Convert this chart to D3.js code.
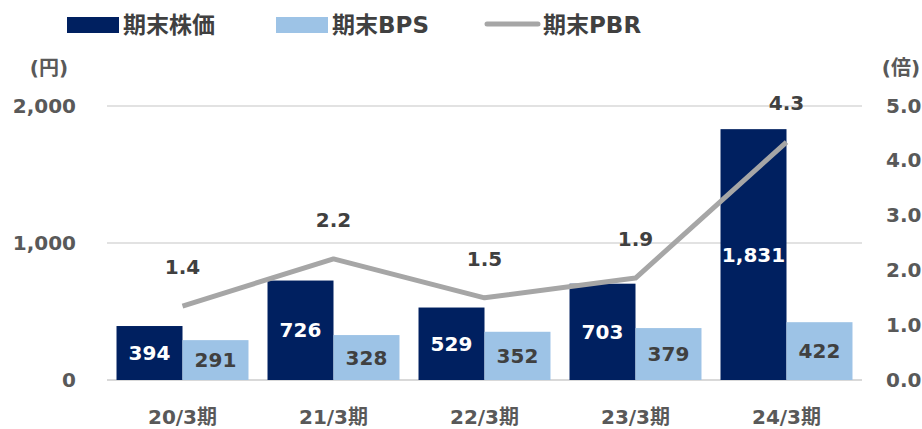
<!DOCTYPE html>
<html><head><meta charset="utf-8">
<script src="https://cdn.jsdelivr.net/npm/d3@7/dist/d3.min.js"></script>
<style>
html,body{margin:0;padding:0;background:#fff;}
text{font-family:"DejaVu Sans","Noto Sans CJK JP",sans-serif;font-weight:bold;}
</style></head>
<body><svg id="c" width="922" height="429"></svg>
<script>
const categories = ["20/3期","21/3期","22/3期","23/3期","24/3期"];
const stockPrice = [394, 726, 529, 703, 1831];
const bps = [291, 328, 352, 379, 422];
const pbr = [1.35, 2.21, 1.50, 1.86, 4.34];
const leftTicks = [0, 1000, 2000];
const rightTicks = [0, 1, 2, 3, 4, 5];
const seriesNames = ["期末株価", "期末BPS", "期末PBR"];

const C_DARK = "#002060", C_LIGHT = "#9DC3E6", C_LINE = "#A6A6A6", C_TXT = "#404040", C_AX = "#595959";
const svg = d3.select("#c");
const L = 107, R = 862, T = 106, B = 380;

const x0 = d3.scaleBand().domain(categories).range([L, R]).paddingInner(0.126).paddingOuter(0.063);
const x1 = d3.scaleBand().domain(["p","b"]).range([0, x0.bandwidth()]);
const yL = d3.scaleLinear().domain([0, 2000]).range([B, T]);
const yR = d3.scaleLinear().domain([0, 5]).range([B, T]);

// gridlines
svg.append("g").selectAll("line").data(leftTicks).join("line")
  .attr("x1", L).attr("x2", R).attr("y1", d => yL(d)).attr("y2", d => yL(d))
  .attr("stroke", "#D9D9D9").attr("stroke-width", d => d === 0 ? 2 : 1.5);

// left axis
const axL = d3.axisLeft(yL).tickValues(leftTicks).tickFormat(d3.format(",")).tickSize(0).tickPadding(0);
const gL = svg.append("g").attr("transform", "translate(76,0)").call(axL);
gL.select(".domain").remove();
gL.selectAll("text").attr("fill", C_AX).attr("font-size", 20).attr("dy", "0.3em").style("font-family", null);

// right axis
const axR = d3.axisRight(yR).tickValues(rightTicks).tickFormat(d3.format(".1f")).tickSize(0).tickPadding(0);
const gR = svg.append("g").attr("transform", "translate(886,0)").call(axR);
gR.select(".domain").remove();
gR.selectAll("text").attr("fill", C_AX).attr("font-size", 20).attr("dy", "0.3em").style("font-family", null);

// unit labels
svg.append("text").attr("x", 49).attr("y", 75).attr("text-anchor", "middle").attr("fill", C_AX).attr("font-size", 20).text("(円)");
svg.append("text").attr("x", 901).attr("y", 75).attr("text-anchor", "middle").attr("fill", C_AX).attr("font-size", 20).text("(倍)");

// x axis labels
const axX = d3.axisBottom(x0).tickSize(0).tickPadding(0);
const gX = svg.append("g").attr("transform", "translate(0,417)").call(axX);
gX.select(".domain").remove();
gX.selectAll("text").attr("fill", C_AX).attr("font-size", 20).attr("dy", "0.35em").style("font-family", null);

// bars
const groups = svg.append("g").selectAll("g").data(categories).join("g")
  .attr("transform", d => `translate(${x0(d)},0)`);
groups.append("rect").attr("x", x1("p")).attr("width", x1.bandwidth())
  .attr("y", (d, i) => yL(stockPrice[i])).attr("height", (d, i) => B - yL(stockPrice[i])).attr("fill", C_DARK);
groups.append("rect").attr("x", x1("b")).attr("width", x1.bandwidth())
  .attr("y", (d, i) => yL(bps[i])).attr("height", (d, i) => B - yL(bps[i])).attr("fill", C_LIGHT);
groups.append("text").attr("x", x1("p") + x1.bandwidth() / 2).attr("text-anchor", "middle")
  .attr("y", (d, i) => (yL(stockPrice[i]) + B) / 2).attr("dy", "0.36em")
  .attr("fill", "#fff").attr("font-size", 20).text((d, i) => d3.format(",")(stockPrice[i]));
groups.append("text").attr("x", x1("b") + x1.bandwidth() / 2).attr("text-anchor", "middle")
  .attr("y", (d, i) => (yL(bps[i]) + B) / 2).attr("dy", "0.36em")
  .attr("fill", C_TXT).attr("font-size", 20).text((d, i) => d3.format(",")(bps[i]));

// PBR line
const cx = d => x0(d) + x0.bandwidth() / 2;
const line = d3.line().x((d, i) => cx(categories[i])).y(d => yR(d));
svg.append("path").datum(pbr).attr("d", line).attr("fill", "none")
  .attr("stroke", C_LINE).attr("stroke-width", 5).attr("stroke-linejoin", "round");
svg.append("g").selectAll("text").data(pbr).join("text")
  .attr("x", (d, i) => cx(categories[i])).attr("y", d => yR(d) - 39).attr("dy", "0.36em")
  .attr("text-anchor", "middle").attr("fill", C_TXT).attr("font-size", 20).text(d => d.toFixed(1));

// legend
const lg = svg.append("g");
lg.append("rect").attr("x", 67).attr("y", 17).attr("width", 52).attr("height", 16).attr("fill", C_DARK);
lg.append("text").attr("x", 123).attr("y", 25).attr("dy", "0.35em").attr("fill", C_TXT).attr("font-size", 23).text(seriesNames[0]);
lg.append("rect").attr("x", 276).attr("y", 17).attr("width", 52).attr("height", 16).attr("fill", C_LIGHT);
lg.append("text").attr("x", 332).attr("y", 25).attr("dy", "0.35em").attr("fill", C_TXT).attr("font-size", 23).text(seriesNames[1]);
lg.append("line").attr("x1", 487).attr("x2", 538).attr("y1", 24).attr("y2", 24)
  .attr("stroke", C_LINE).attr("stroke-width", 5).attr("stroke-linecap", "round");
lg.append("text").attr("x", 543).attr("y", 25).attr("dy", "0.35em").attr("fill", C_TXT).attr("font-size", 23).text(seriesNames[2]);
</script></body></html>
